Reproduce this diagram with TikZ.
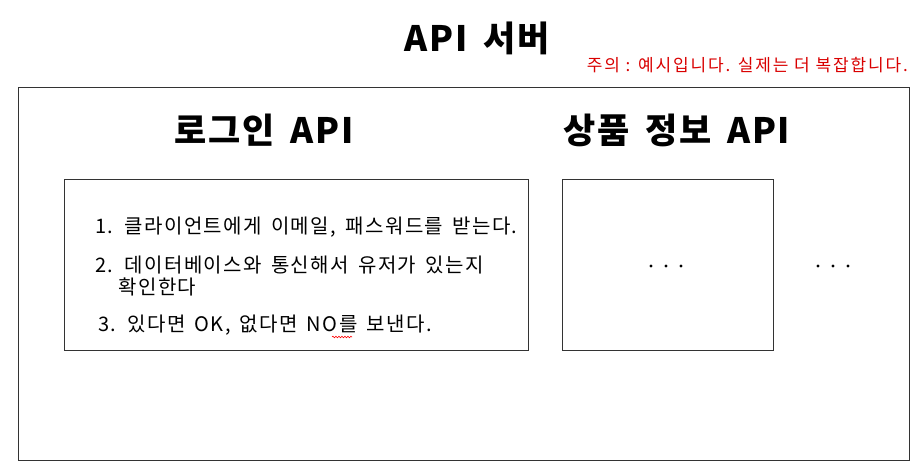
\documentclass[tikz,border=0pt]{standalone}
\usepackage{fontspec}
\setmainfont{Noto Sans CJK KR}
\newfontfamily\kr{Noto Sans CJK KR}
\newfontfamily\krhead[LetterSpace=5,WordSpace=1.6]{Noto Sans CJK KR}
\newfontfamily\kritem[LetterSpace=7.5,WordSpace=1.5]{Noto Sans CJK KR}
\newfontfamily\krnote[LetterSpace=11]{Noto Sans CJK KR}
\usetikzlibrary{decorations.pathmorphing}
\begin{document}
\begin{tikzpicture}[x=1pt,y=-1pt,
  frame/.style={draw=black!80,line width=1.2pt},
  heading/.style={font=\krhead\bfseries\fontsize{35}{38}\selectfont,inner sep=0pt},
  item/.style={font=\kritem\fontsize{20}{23}\selectfont,inner sep=0pt,anchor=west},
  dotm/.style={fill=black,circle,inner sep=0pt,minimum size=3.4pt}]
\useasboundingbox (0,0) rectangle (922,472);
\node[heading] (title) at (477,38) {API 서버};
\node[font=\krnote\fontsize{17}{20}\selectfont,text=red!85!black,inner sep=0pt,anchor=east] (note) at (908,65) {주의 : 예시입니다. 실제는 더 복잡합니다.};
\node[frame,minimum width=891pt,minimum height=373pt,anchor=north west] (server) at (18,87) {};
\node[heading] (login) at (264,130) {로그인 API};
\node[heading] (product) at (677,130) {상품 정보 API};
\node[frame,minimum width=464pt,minimum height=171pt,anchor=north west] (lbox) at (64,179) {};
\node[frame,minimum width=211pt,minimum height=171pt,anchor=north west] (pbox) at (562,179) {};
\node[item] (i1) at (95,227) {1. 클라이언트에게 이메일, 패스워드를 받는다.};
\node[item] (i2) at (95,265) {2. 데이터베이스와 통신해서 유저가 있는지};
\node[item] (i2b) at (118,287) {확인한다};
\node[item] (i3) at (98,325) {3. 있다면 OK, 없다면 NO를 보낸다.};
\coordinate (w1) at (332,337);
\coordinate (w2) at (352,337);
\draw[red,line width=0.6pt,decorate,decoration={snake,amplitude=0.8pt,segment length=3pt}] (w1) -- (w2);
\node[dotm] (d1) at (651,266) {};
\node[dotm] (d2) at (666,266) {};
\node[dotm] (d3) at (681,266) {};
\node[dotm] (e1) at (818,266) {};
\node[dotm] (e2) at (833,266) {};
\node[dotm] (e3) at (848,266) {};
\end{tikzpicture}
\end{document}
